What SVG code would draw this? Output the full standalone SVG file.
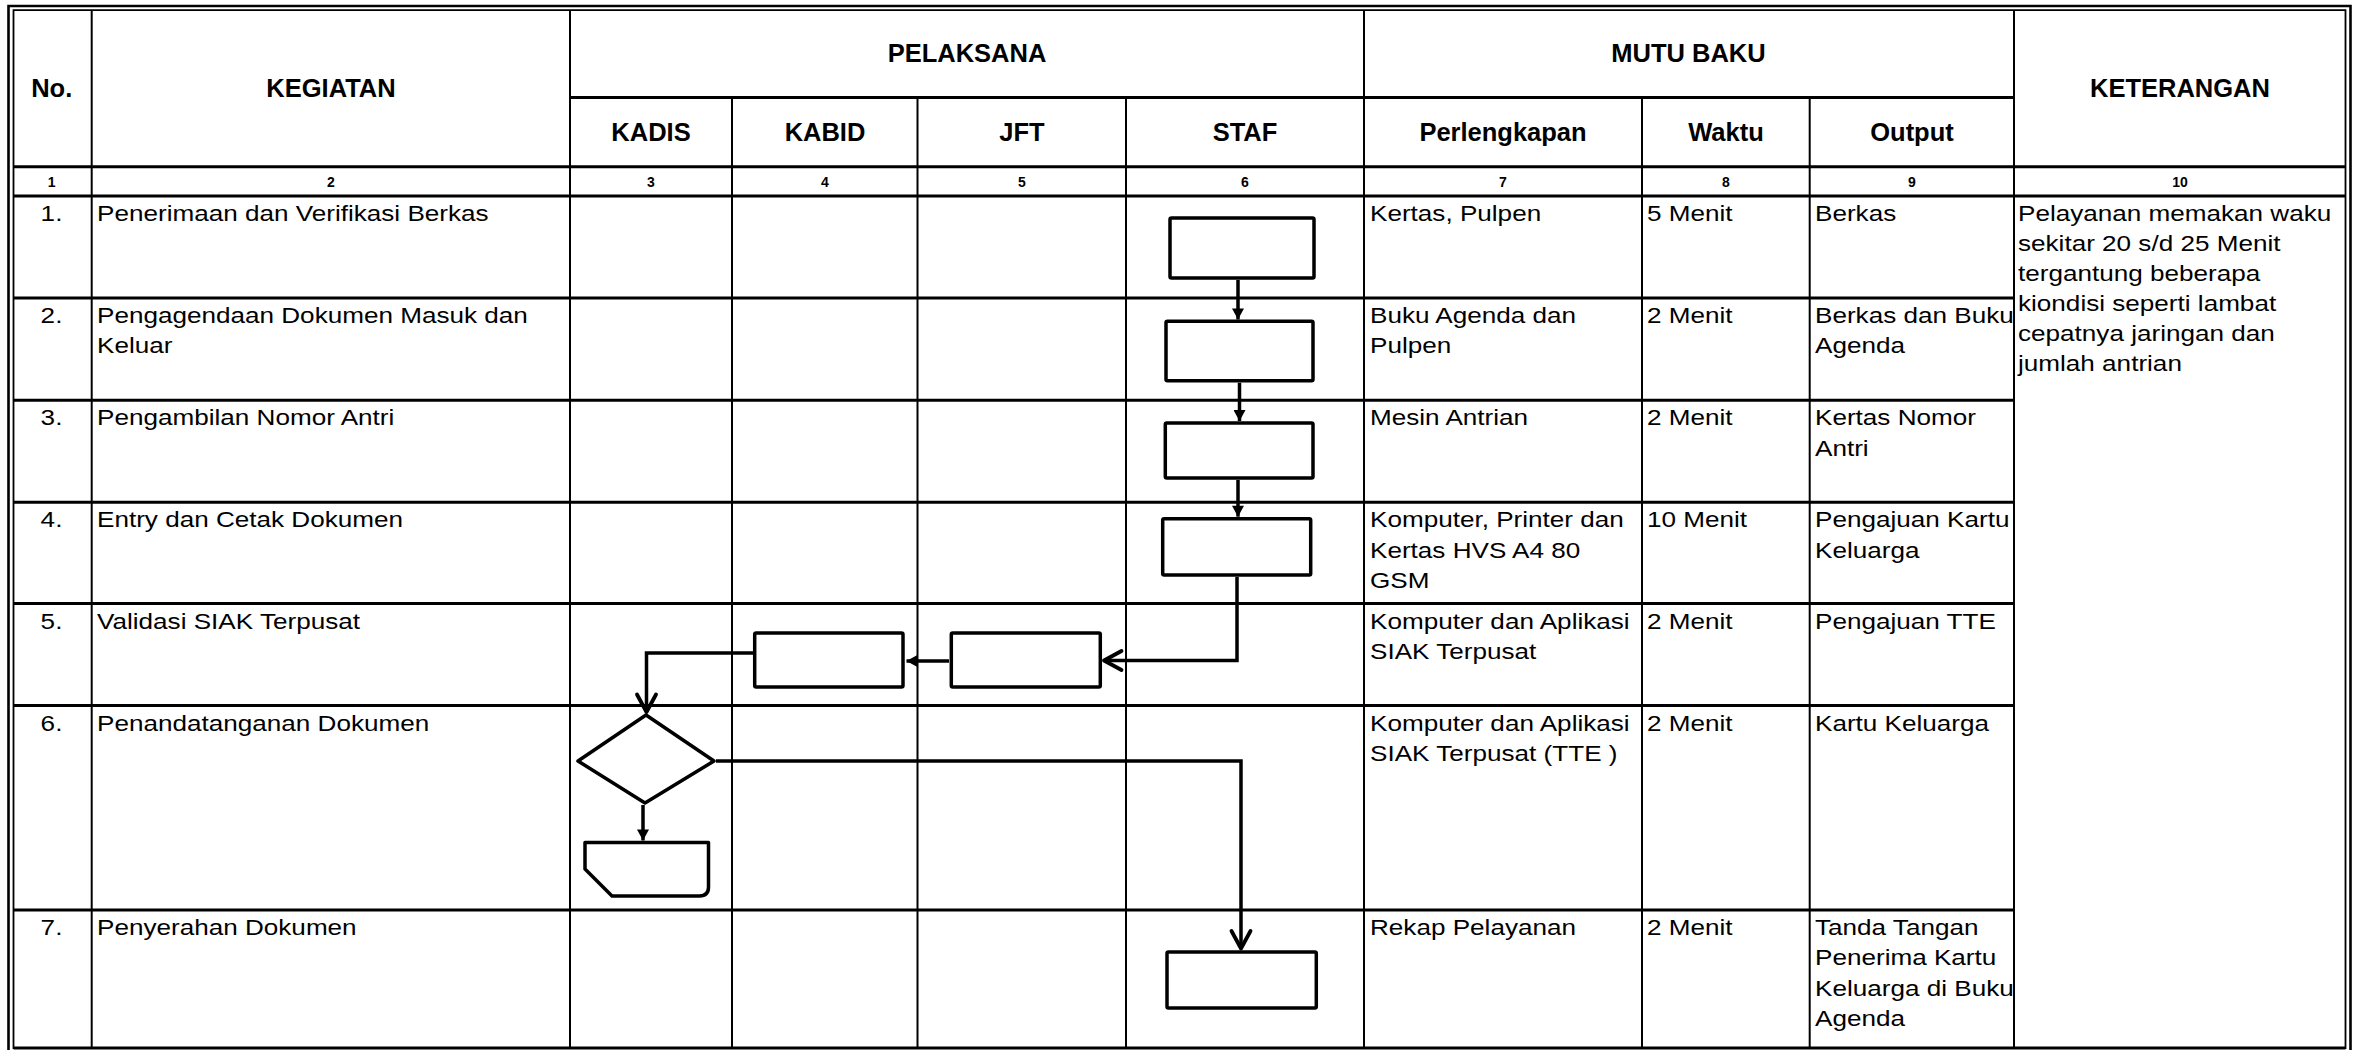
<svg xmlns="http://www.w3.org/2000/svg" width="2361" height="1050" viewBox="0 0 2361 1050">
<style>
.g{stroke:#000;fill:none}
.h{stroke-width:3}
.v{stroke-width:2}
.hd{font-family:"Liberation Sans",Arial,sans-serif;font-weight:bold;font-size:25.5px;fill:#000;text-anchor:middle}
.nm{font-family:"Liberation Sans",Arial,sans-serif;font-weight:bold;font-size:14px;fill:#000;text-anchor:middle}
.t{font-family:"Liberation Sans",Arial,sans-serif;font-size:22.5px;fill:#000}
.c{text-anchor:middle}
.box{fill:#fff;stroke:#000;stroke-width:3.5;stroke-linejoin:round}
.cn{fill:none;stroke:#000;stroke-width:3.5}
</style>
<defs>
<marker id="tri" markerUnits="userSpaceOnUse" markerWidth="12" markerHeight="12" viewBox="0 0 10 11" refX="10" refY="5.5" orient="auto">
<path d="M0,0 L10,5.5 L0,11 Z" fill="#000"/>
</marker>
<marker id="chev" markerUnits="userSpaceOnUse" markerWidth="26" markerHeight="26" viewBox="-21 -13 26 26" refX="0" refY="0" orient="auto">
<path d="M-17.5,-9.5 L0,0 L-17.5,9.5" fill="none" stroke="#000" stroke-width="3.8" stroke-linecap="round" stroke-linejoin="round"/>
</marker>
</defs>
<rect width="2361" height="1050" fill="#fff"/>

<g id="frame" class="g">
<path d="M8.5 1052 V6 H2350.5 V1052" stroke-width="2.6"/>
<path d="M13.5 1048 V10.2 H2345.5 V1048 Z" stroke-width="1.8"/>
</g>

<g id="grid" class="g">
<g class="v">
<line x1="91.7" y1="10" x2="91.7" y2="1048"/>
<line x1="570" y1="10" x2="570" y2="1048"/>
<line x1="732" y1="97.5" x2="732" y2="1048"/>
<line x1="917.5" y1="97.5" x2="917.5" y2="1048"/>
<line x1="1126" y1="97.5" x2="1126" y2="1048"/>
<line x1="1364" y1="10" x2="1364" y2="1048"/>
<line x1="1642" y1="97.5" x2="1642" y2="1048"/>
<line x1="1809.7" y1="97.5" x2="1809.7" y2="1048"/>
<line x1="2014" y1="10" x2="2014" y2="1048"/>
</g>
<g class="h">
<line x1="570" y1="97.5" x2="2014" y2="97.5"/>
<line x1="13.5" y1="166.7" x2="2345.5" y2="166.7"/>
<line x1="13.5" y1="196" x2="2345.5" y2="196"/>
<line x1="13.5" y1="298" x2="2014" y2="298"/>
<line x1="13.5" y1="400.3" x2="2014" y2="400.3"/>
<line x1="13.5" y1="502.3" x2="2014" y2="502.3"/>
<line x1="13.5" y1="603.5" x2="2014" y2="603.5"/>
<line x1="13.5" y1="705.5" x2="2014" y2="705.5"/>
<line x1="13.5" y1="910" x2="2014" y2="910"/>
<line x1="13.5" y1="1048" x2="2345.5" y2="1048"/>
</g>
</g>

<g id="headers">
<text class="hd" x="51.7" y="97">No.</text>
<text class="hd" x="331" y="97">KEGIATAN</text>
<text class="hd" x="967" y="62">PELAKSANA</text>
<text class="hd" x="1688.5" y="62">MUTU BAKU</text>
<text class="hd" x="2180" y="97">KETERANGAN</text>
<text class="hd" x="651" y="141">KADIS</text>
<text class="hd" x="825" y="141">KABID</text>
<text class="hd" x="1022" y="141">JFT</text>
<text class="hd" x="1245" y="141">STAF</text>
<text class="hd" x="1503" y="141">Perlengkapan</text>
<text class="hd" x="1726" y="141">Waktu</text>
<text class="hd" x="1912" y="141">Output</text>
</g>

<g id="colnums">
<text class="nm" x="51.7" y="187">1</text>
<text class="nm" x="331" y="187">2</text>
<text class="nm" x="651" y="187">3</text>
<text class="nm" x="825" y="187">4</text>
<text class="nm" x="1022" y="187">5</text>
<text class="nm" x="1245" y="187">6</text>
<text class="nm" x="1503" y="187">7</text>
<text class="nm" x="1726" y="187">8</text>
<text class="nm" x="1912" y="187">9</text>
<text class="nm" x="2180" y="187">10</text>
</g>

<g id="rows">
<text class="t c" transform="translate(51.5,221) scale(1.16,1)">1.</text>
<text class="t" transform="translate(97,221) scale(1.16,1)">Penerimaan dan Verifikasi Berkas</text>
<text class="t" transform="translate(1370,221) scale(1.16,1)">Kertas, Pulpen</text>
<text class="t" transform="translate(1647,221) scale(1.16,1)">5 Menit</text>
<text class="t" transform="translate(1815,221) scale(1.16,1)">Berkas</text>

<text class="t c" transform="translate(51.5,323) scale(1.16,1)">2.</text>
<text class="t" transform="translate(97,323) scale(1.16,1)"><tspan x="0">Pengagendaan Dokumen Masuk dan</tspan><tspan x="0" dy="30.5">Keluar</tspan></text>
<text class="t" transform="translate(1370,323) scale(1.16,1)"><tspan x="0">Buku Agenda dan</tspan><tspan x="0" dy="30.5">Pulpen</tspan></text>
<text class="t" transform="translate(1647,323) scale(1.16,1)">2 Menit</text>
<text class="t" transform="translate(1815,323) scale(1.16,1)"><tspan x="0">Berkas dan Buku</tspan><tspan x="0" dy="30.5">Agenda</tspan></text>

<text class="t c" transform="translate(51.5,425.3) scale(1.16,1)">3.</text>
<text class="t" transform="translate(97,425.3) scale(1.16,1)">Pengambilan Nomor Antri</text>
<text class="t" transform="translate(1370,425.3) scale(1.16,1)">Mesin Antrian</text>
<text class="t" transform="translate(1647,425.3) scale(1.16,1)">2 Menit</text>
<text class="t" transform="translate(1815,425.3) scale(1.16,1)"><tspan x="0">Kertas Nomor</tspan><tspan x="0" dy="30.5">Antri</tspan></text>

<text class="t c" transform="translate(51.5,527.3) scale(1.16,1)">4.</text>
<text class="t" transform="translate(97,527.3) scale(1.16,1)">Entry dan Cetak Dokumen</text>
<text class="t" transform="translate(1370,527.3) scale(1.16,1)"><tspan x="0">Komputer, Printer dan</tspan><tspan x="0" dy="30.5">Kertas HVS A4 80</tspan><tspan x="0" dy="30.5">GSM</tspan></text>
<text class="t" transform="translate(1647,527.3) scale(1.16,1)">10 Menit</text>
<text class="t" transform="translate(1815,527.3) scale(1.16,1)"><tspan x="0">Pengajuan Kartu</tspan><tspan x="0" dy="30.5">Keluarga</tspan></text>

<text class="t c" transform="translate(51.5,628.5) scale(1.16,1)">5.</text>
<text class="t" transform="translate(97,628.5) scale(1.16,1)">Validasi SIAK Terpusat</text>
<text class="t" transform="translate(1370,628.5) scale(1.16,1)"><tspan x="0">Komputer dan Aplikasi</tspan><tspan x="0" dy="30.5">SIAK Terpusat</tspan></text>
<text class="t" transform="translate(1647,628.5) scale(1.16,1)">2 Menit</text>
<text class="t" transform="translate(1815,628.5) scale(1.16,1)">Pengajuan TTE</text>

<text class="t c" transform="translate(51.5,730.5) scale(1.16,1)">6.</text>
<text class="t" transform="translate(97,730.5) scale(1.16,1)">Penandatanganan Dokumen</text>
<text class="t" transform="translate(1370,730.5) scale(1.16,1)"><tspan x="0">Komputer dan Aplikasi</tspan><tspan x="0" dy="30.5">SIAK Terpusat (TTE )</tspan></text>
<text class="t" transform="translate(1647,730.5) scale(1.16,1)">2 Menit</text>
<text class="t" transform="translate(1815,730.5) scale(1.16,1)">Kartu Keluarga</text>

<text class="t c" transform="translate(51.5,935) scale(1.16,1)">7.</text>
<text class="t" transform="translate(97,935) scale(1.16,1)">Penyerahan Dokumen</text>
<text class="t" transform="translate(1370,935) scale(1.16,1)">Rekap Pelayanan</text>
<text class="t" transform="translate(1647,935) scale(1.16,1)">2 Menit</text>
<text class="t" transform="translate(1815,935) scale(1.16,1)"><tspan x="0">Tanda Tangan</tspan><tspan x="0" dy="30.5">Penerima Kartu</tspan><tspan x="0" dy="30.5">Keluarga di Buku</tspan><tspan x="0" dy="30.5">Agenda</tspan></text>

<text class="t" transform="translate(2018,221) scale(1.16,1)"><tspan x="0">Pelayanan memakan waku</tspan><tspan x="0" dy="30">sekitar 20 s/d 25 Menit</tspan><tspan x="0" dy="30">tergantung beberapa</tspan><tspan x="0" dy="30">kiondisi seperti lambat</tspan><tspan x="0" dy="30">cepatnya jaringan dan</tspan><tspan x="0" dy="30">jumlah antrian</tspan></text>
</g>

<g id="connectors">
<path class="cn" d="M1238 280 V319.5" marker-end="url(#tri)"/>
<path class="cn" d="M1239.5 382.7 V421" marker-end="url(#tri)"/>
<path class="cn" d="M1238 480 V516.7" marker-end="url(#tri)"/>
<path class="cn" d="M1237 577 V660.5 H1104" marker-end="url(#chev)"/>
<path class="cn" d="M949 661 H906.5" stroke="#333" stroke-width="3" marker-end="url(#tri)"/>
<path class="cn" d="M753 653 H646.5 V712" marker-end="url(#chev)"/>
<path class="cn" d="M643 805 V840.5" marker-end="url(#tri)"/>
<path class="cn" d="M716 761 H1241 V948.5" marker-end="url(#chev)"/>
</g>

<g id="staf1"><rect class="box" x="1170" y="218" width="144" height="60" rx="1.5"/></g>
<g id="staf2"><rect class="box" x="1166" y="321.3" width="147" height="59.4" rx="1.5"/></g>
<g id="staf3"><rect class="box" x="1165.3" y="423" width="147.7" height="55" rx="1.5"/></g>
<g id="staf4"><rect class="box" x="1162.7" y="518.7" width="148" height="56.3" rx="1.5"/></g>
<g id="jft5"><rect class="box" x="951.3" y="633" width="149" height="54" rx="1.5"/></g>
<g id="kabid5"><rect class="box" x="754.7" y="633" width="148.3" height="54" rx="1.5"/></g>
<g id="kadis6-decision"><path class="box" d="M578 761 L646 715 L714 761 L645 803 Z"/></g>
<g id="kadis6-output"><path class="box" d="M585 842.5 H708.5 V887 Q708.5 896 699.5 896 H612 L585 869 Z"/></g>
<g id="staf7"><rect class="box" x="1167" y="952" width="149.3" height="56" rx="1.5"/></g>
</svg>
